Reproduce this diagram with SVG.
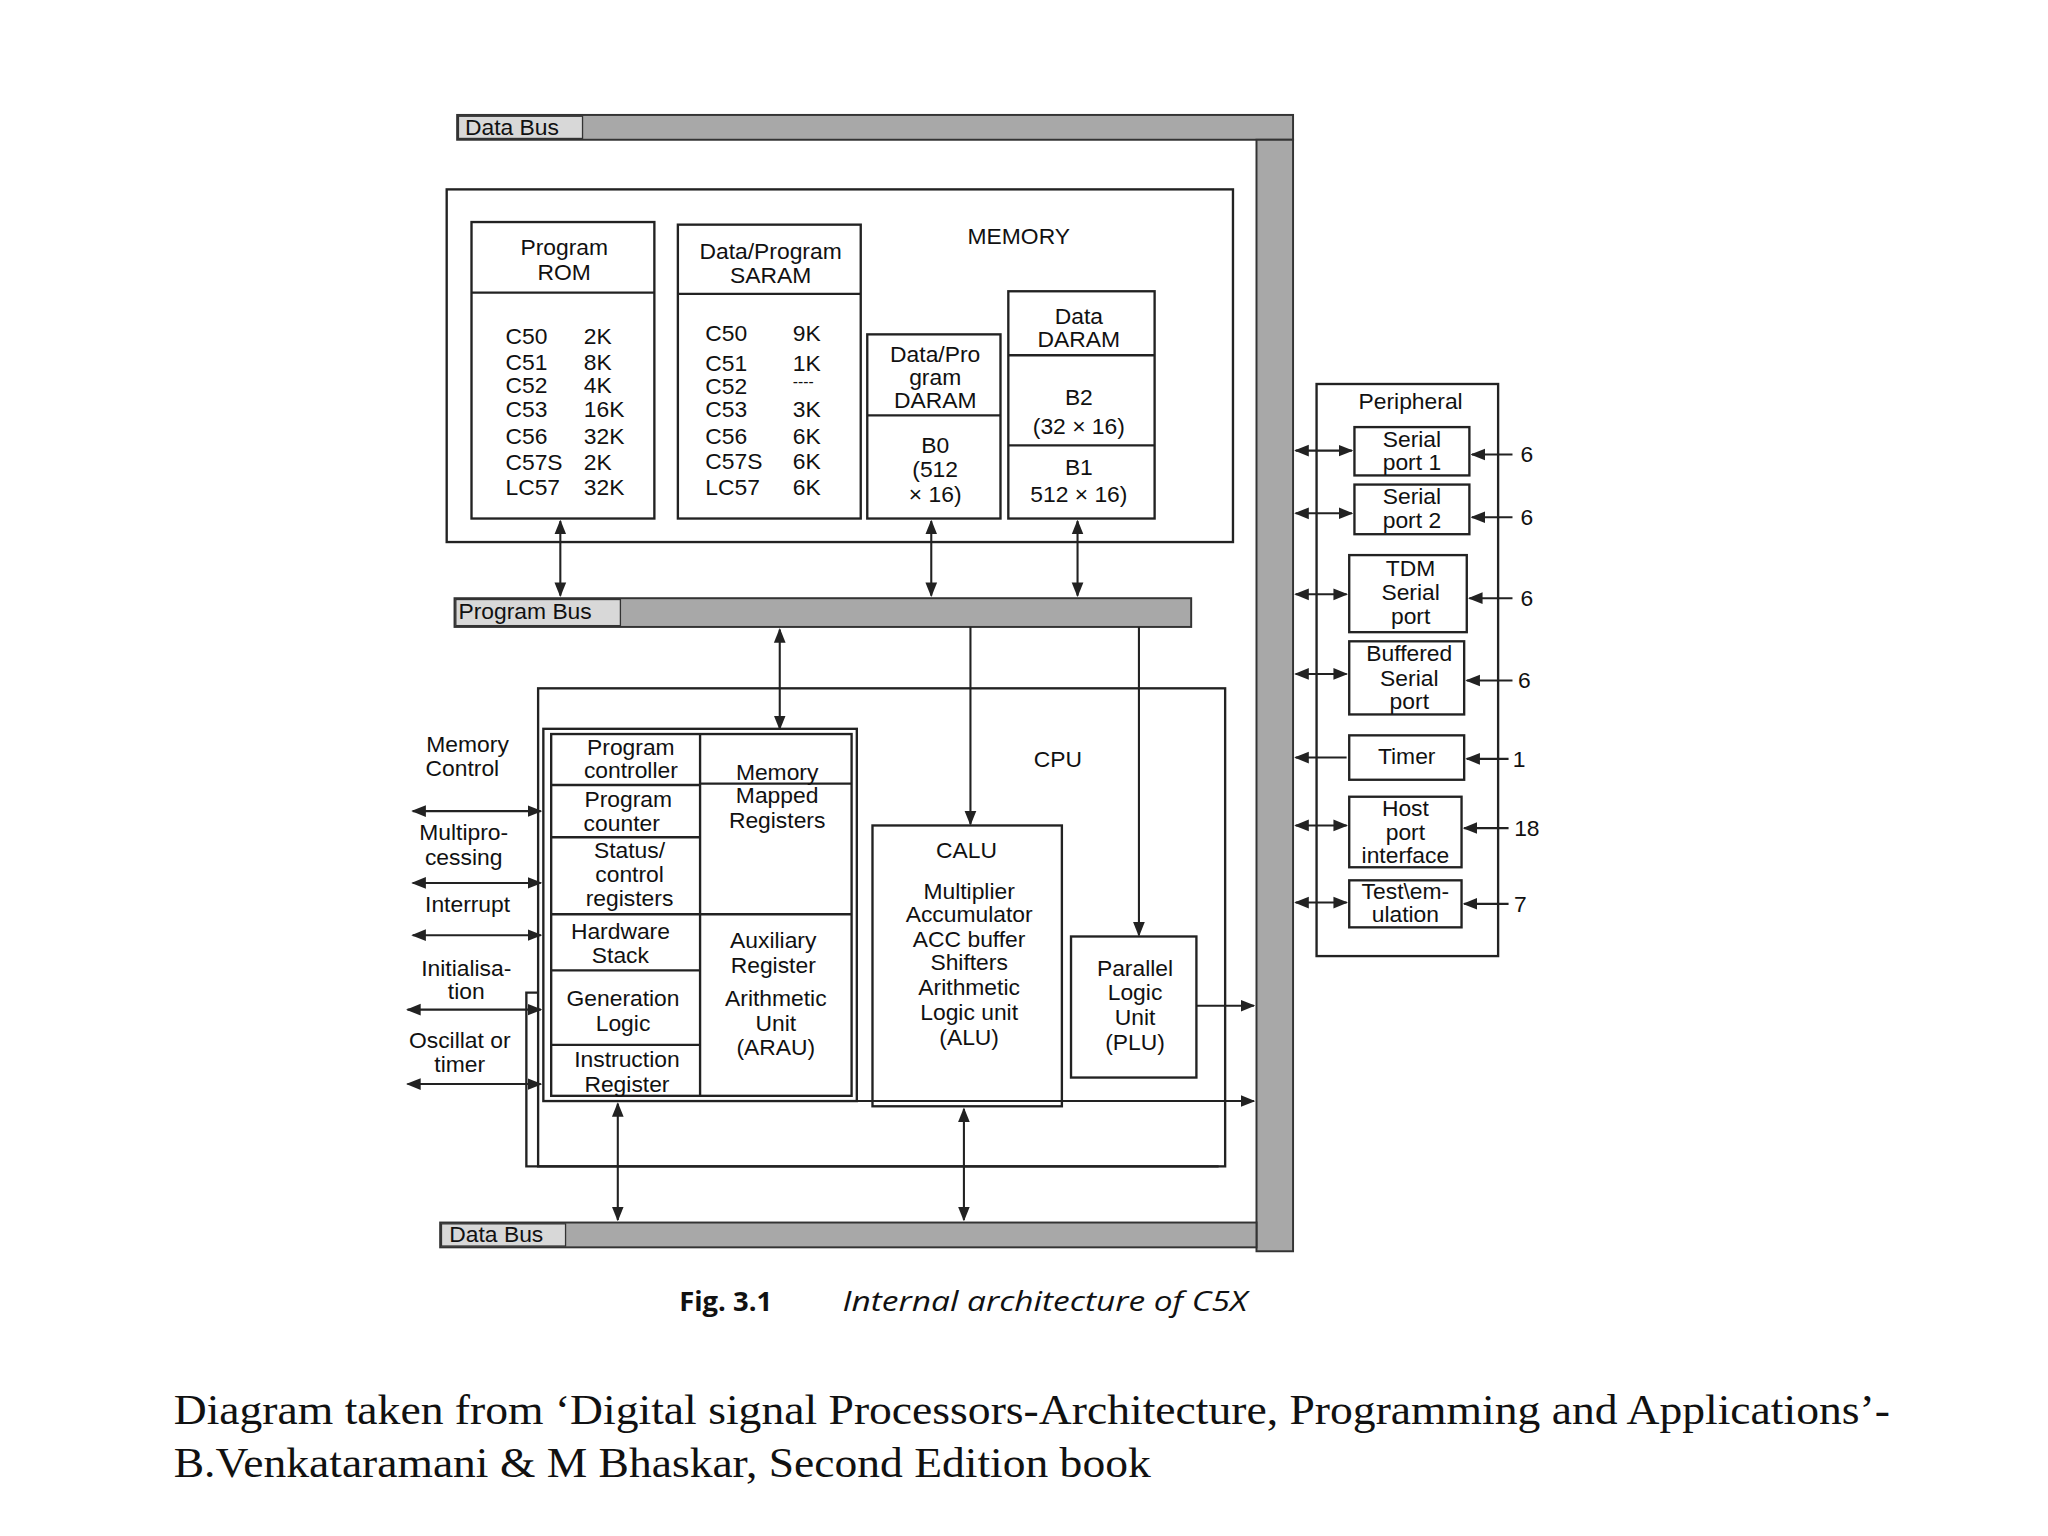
<svg xmlns="http://www.w3.org/2000/svg" width="2048" height="1536" viewBox="0 0 2048 1536">
<defs>
<marker id="ah" viewBox="0 0 10 10" refX="9" refY="5" markerWidth="7" markerHeight="7" orient="auto-start-reverse"><path d="M0,1 L10,5 L0,9 z" fill="#222"/></marker>
<style>
text{font-family:"Liberation Sans",Arial,sans-serif;font-size:17.5px;fill:#111;text-anchor:middle}
.l{text-anchor:start}
.b{fill:none;stroke:#222;stroke-width:1.8}
.bus{fill:#a8a8a8;stroke:#333;stroke-width:1.5}
.lab{fill:#d8d8d8;stroke:#333;stroke-width:1}
.c{stroke:#222;stroke-width:1.6;fill:none}
.a2{marker-start:url(#ah);marker-end:url(#ah)}
.a1{marker-end:url(#ah)}
.cap{font-family:"Liberation Serif","Times New Roman",serif;font-size:33px;text-anchor:start}
</style>
</defs>
<rect width="2048" height="1536" fill="#fff"/>
<g transform="scale(1.30612)">
<g id="buses">
<rect class="bus" x="350" y="88" width="640" height="19"/>
<rect class="lab" x="351" y="89" width="95" height="17"/>
<text class="l" x="356" y="103">Data Bus</text>
<rect class="bus" x="962" y="107" width="28" height="851"/>
<rect class="bus" x="337" y="936" width="625" height="19"/>
<rect class="lab" x="338" y="937" width="95" height="17"/>
<text class="l" x="344" y="951">Data Bus</text>
<rect class="bus" x="348" y="458" width="564" height="22"/>
<rect class="lab" x="349" y="459" width="126" height="20"/>
<text class="l" x="351" y="474">Program Bus</text>
</g>
<g id="memory">
<rect class="b" x="342" y="145" width="602" height="270"/>
<text x="780" y="187">MEMORY</text>
</g>
<g id="prom">
<rect class="b" x="361" y="170" width="140" height="227"/>
<line class="b" x1="361" y1="224" x2="501" y2="224"/>
<text x="432" y="195">Program</text><text x="432" y="214">ROM</text>
<text class="l" x="387" y="263">C50</text><text class="l" x="447" y="263">2K</text>
<text class="l" x="387" y="283">C51</text><text class="l" x="447" y="283">8K</text>
<text class="l" x="387" y="301">C52</text><text class="l" x="447" y="301">4K</text>
<text class="l" x="387" y="319">C53</text><text class="l" x="447" y="319">16K</text>
<text class="l" x="387" y="340">C56</text><text class="l" x="447" y="340">32K</text>
<text class="l" x="387" y="360">C57S</text><text class="l" x="447" y="360">2K</text>
<text class="l" x="387" y="379">LC57</text><text class="l" x="447" y="379">32K</text>
</g>
<g id="saram">
<rect class="b" x="519" y="172" width="140" height="225"/>
<line class="b" x1="519" y1="225" x2="659" y2="225"/>
<text x="590" y="198">Data/Program</text><text x="590" y="217">SARAM</text>
<text class="l" x="540" y="261">C50</text><text class="l" x="607" y="261">9K</text>
<text class="l" x="540" y="284">C51</text><text class="l" x="607" y="284">1K</text>
<text class="l" x="540" y="302">C52</text><text class="l" x="607" y="296" style="font-size:12px">----</text>
<text class="l" x="540" y="319">C53</text><text class="l" x="607" y="319">3K</text>
<text class="l" x="540" y="340">C56</text><text class="l" x="607" y="340">6K</text>
<text class="l" x="540" y="359">C57S</text><text class="l" x="607" y="359">6K</text>
<text class="l" x="540" y="379">LC57</text><text class="l" x="607" y="379">6K</text>
</g>
<g id="daram1">
<rect class="b" x="664" y="256" width="102" height="141"/>
<line class="b" x1="664" y1="318" x2="766" y2="318"/>
<text x="716" y="277">Data/Pro</text><text x="716" y="295">gram</text><text x="716" y="312">DARAM</text>
<text x="716" y="347">B0</text><text x="716" y="365">(512</text><text x="716" y="384">× 16)</text>
</g>
<g id="daram2">
<rect class="b" x="772" y="223" width="112" height="174"/>
<line class="b" x1="772" y1="272" x2="884" y2="272"/>
<line class="b" x1="772" y1="341" x2="884" y2="341"/>
<text x="826" y="248">Data</text><text x="826" y="266">DARAM</text>
<text x="826" y="310">B2</text><text x="826" y="332">(32 × 16)</text>
<text x="826" y="364">B1</text><text x="826" y="384">512 × 16)</text>
</g>
<g id="cpu">
<rect class="b" x="412" y="527" width="526" height="366"/>
<polyline class="b" points="412,760 403,760 403,893 933,893"/>
<text x="810" y="587">CPU</text>
</g>
<g id="ctrl">
<rect class="b" x="416" y="558" width="240" height="285"/>
<rect class="b" x="422" y="562" width="230" height="277"/>
<line class="b" x1="536" y1="562" x2="536" y2="839"/>
<line class="b" x1="422" y1="601" x2="536" y2="601"/>
<line class="b" x1="422" y1="641" x2="536" y2="641"/>
<line class="b" x1="422" y1="700" x2="536" y2="700"/>
<line class="b" x1="422" y1="743" x2="536" y2="743"/>
<line class="b" x1="422" y1="800" x2="536" y2="800"/>
<line class="b" x1="536" y1="600" x2="652" y2="600"/>
<line class="b" x1="536" y1="700" x2="652" y2="700"/>
<text x="483" y="578">Program</text><text x="483" y="596">controller</text>
<text x="481" y="618">Program</text><text x="476" y="636">counter</text>
<text x="482" y="657">Status/</text><text x="482" y="675">control</text><text x="482" y="694">registers</text>
<text x="475" y="719">Hardware</text><text x="475" y="737">Stack</text>
<text x="477" y="770">Generation</text><text x="477" y="789">Logic</text>
<text x="480" y="817">Instruction</text><text x="480" y="836">Register</text>
<text x="595" y="597">Memory</text><text x="595" y="615">Mapped</text><text x="595" y="634">Registers</text>
<text x="592" y="726">Auxiliary</text><text x="592" y="745">Register</text>
<text x="594" y="770">Arithmetic</text><text x="594" y="789">Unit</text><text x="594" y="808">(ARAU)</text>
</g>
<g id="calu">
<rect class="b" x="668" y="632" width="145" height="215"/>
<text x="740" y="657">CALU</text>
<text x="742" y="688">Multiplier</text><text x="742" y="706">Accumulator</text><text x="742" y="725">ACC buffer</text>
<text x="742" y="743">Shifters</text><text x="742" y="762">Arithmetic</text><text x="742" y="781">Logic unit</text><text x="742" y="800">(ALU)</text>
</g>
<g id="plu">
<rect class="b" x="820" y="717" width="96" height="108"/>
<text x="869" y="747">Parallel</text><text x="869" y="766">Logic</text><text x="869" y="785">Unit</text><text x="869" y="804">(PLU)</text>
</g>
<g id="sigs">
<text x="358" y="576">Memory</text><text x="354" y="594">Control</text>
<text x="355" y="643">Multipro-</text><text x="355" y="662">cessing</text>
<text x="358" y="698">Interrupt</text>
<text x="357" y="747">Initialisa-</text><text x="357" y="765">tion</text>
<text x="352" y="802">Oscillat or</text><text x="352" y="821">timer</text>
</g>
<g id="periph">
<rect class="b" x="1008" y="294" width="139" height="438"/>
<text x="1080" y="313">Peripheral</text>
<rect class="b" x="1037" y="327" width="88" height="37"/>
<text x="1081" y="342">Serial</text><text x="1081" y="360">port 1</text>
<rect class="b" x="1037" y="371" width="88" height="38"/>
<text x="1081" y="386">Serial</text><text x="1081" y="404">port 2</text>
<rect class="b" x="1033" y="425" width="90" height="59"/>
<text x="1080" y="441">TDM</text><text x="1080" y="459">Serial</text><text x="1080" y="478">port</text>
<rect class="b" x="1033" y="491" width="88" height="56"/>
<text x="1079" y="506">Buffered</text><text x="1079" y="525">Serial</text><text x="1079" y="543">port</text>
<rect class="b" x="1033" y="563" width="88" height="34"/>
<text x="1077" y="585">Timer</text>
<rect class="b" x="1033" y="610" width="86" height="54"/>
<text x="1076" y="625">Host</text><text x="1076" y="643">port</text><text x="1076" y="661">interface</text>
<rect class="b" x="1033" y="674" width="86" height="36"/>
<text x="1076" y="688">Test\em-</text><text x="1076" y="706">ulation</text>
<text x="1169" y="354">6</text><text x="1169" y="402">6</text><text x="1169" y="464">6</text>
<text x="1167" y="527">6</text><text x="1163" y="587">1</text><text x="1169" y="640">18</text><text x="1164" y="698">7</text>
</g>
<g id="connectors">
<line class="c a2" x1="429" y1="399" x2="429" y2="456"/>
<line class="c a2" x1="713" y1="399" x2="713" y2="456"/>
<line class="c a2" x1="825" y1="399" x2="825" y2="456"/>
<line class="c a2" x1="597" y1="482" x2="597" y2="558"/>
<line class="c a1" x1="743" y1="480" x2="743" y2="631"/>
<line class="c a1" x1="872" y1="480" x2="872" y2="716"/>
<line class="c a1" x1="916" y1="770" x2="960" y2="770"/>
<line class="c a1" x1="656" y1="843" x2="960" y2="843"/>
<line class="c a2" x1="473" y1="845" x2="473" y2="934"/>
<line class="c a2" x1="738" y1="849" x2="738" y2="934"/>
<line class="c a2" x1="316" y1="621" x2="414" y2="621"/>
<line class="c a2" x1="316" y1="676" x2="414" y2="676"/>
<line class="c a2" x1="316" y1="716" x2="414" y2="716"/>
<line class="c a2" x1="312" y1="773" x2="414" y2="773"/>
<line class="c a2" x1="312" y1="830" x2="414" y2="830"/>
<line class="c a2" x1="992" y1="345" x2="1035" y2="345"/>
<line class="c a2" x1="992" y1="393" x2="1035" y2="393"/>
<line class="c a2" x1="992" y1="455" x2="1031" y2="455"/>
<line class="c a2" x1="992" y1="516" x2="1031" y2="516"/>
<line class="c a1" x1="1031" y1="580" x2="992" y2="580"/>
<line class="c a2" x1="992" y1="632" x2="1031" y2="632"/>
<line class="c a2" x1="992" y1="691" x2="1031" y2="691"/>
<line class="c a1" x1="1158" y1="348" x2="1127" y2="348"/>
<line class="c a1" x1="1158" y1="396" x2="1127" y2="396"/>
<line class="c a1" x1="1158" y1="458" x2="1125" y2="458"/>
<line class="c a1" x1="1158" y1="521" x2="1123" y2="521"/>
<line class="c a1" x1="1155" y1="581" x2="1123" y2="581"/>
<line class="c a1" x1="1155" y1="634" x2="1121" y2="634"/>
<line class="c a1" x1="1155" y1="692" x2="1121" y2="692"/>
</g>
<g id="caption">
<text class="l" x="520" y="1004" style="font-family:'Open Sans','Noto Sans',sans-serif;font-weight:bold;font-size:21px">Fig. 3.1</text>
<text class="l" x="645" y="1004" textLength="310" lengthAdjust="spacingAndGlyphs" style="font-family:'Open Sans','Noto Sans',sans-serif;font-style:italic;font-size:21px">Internal architecture of C5X</text>
<text class="cap" x="133" y="1090" textLength="1314" lengthAdjust="spacingAndGlyphs">Diagram taken from ‘Digital signal Processors-Architecture, Programming and Applications’-</text>
<text class="cap" x="133" y="1131" textLength="748" lengthAdjust="spacingAndGlyphs">B.Venkataramani &amp; M Bhaskar, Second Edition book</text>
</g>
</g>
</svg>
